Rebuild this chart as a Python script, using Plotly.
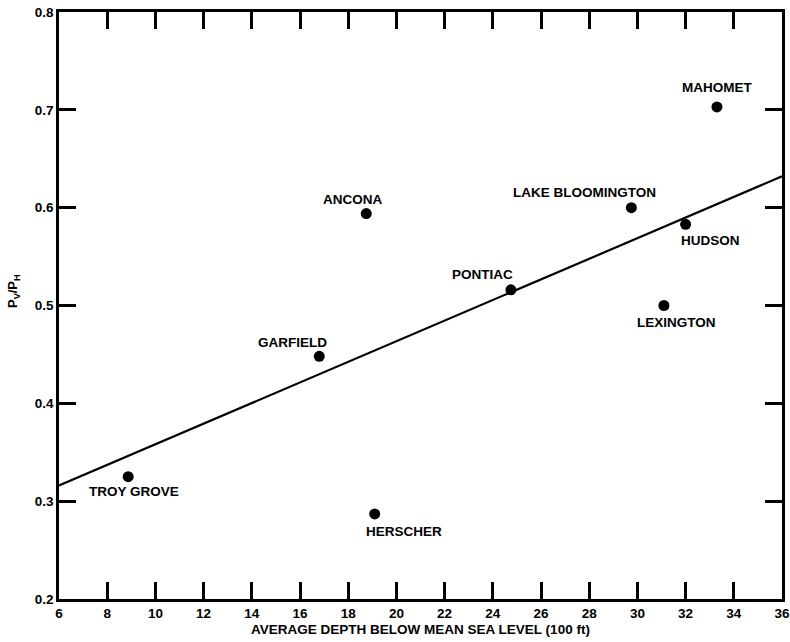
import plotly.graph_objects as go

# Site observations: average depth below mean sea level (100 ft) vs. Pv/Ph ratio
sites = ["MAHOMET", "LAKE BLOOMINGTON", "HUDSON", "ANCONA", "PONTIAC",
         "LEXINGTON", "GARFIELD", "TROY GROVE", "HERSCHER"]
depth = [33.3, 29.75, 32.0, 18.75, 24.75, 31.1, 16.8, 8.87, 19.1]
ratio = [0.703, 0.600, 0.583, 0.594, 0.516, 0.500, 0.448, 0.325, 0.287]

# Fitted trend line end points
fit_x = [6, 36]
fit_y = [0.316, 0.632]

# Label offsets (pixels) relative to each point
label_dx = [0, -47, 25, -14, -28, 13, -27, 6, 29]
label_dy = [19, 15, -16, 14, 15, -17, 14, -15, -18]

FONT = "Liberation Sans"

fig = go.Figure()
fig.add_trace(go.Scatter(x=fit_x, y=fit_y, mode="lines",
                         line=dict(color="black", width=2.2),
                         hoverinfo="skip", showlegend=False))
fig.add_trace(go.Scatter(x=depth, y=ratio, mode="markers",
                         marker=dict(color="black", size=11),
                         text=sites, showlegend=False))

for name, x, y, dx, dy in zip(sites, depth, ratio, label_dx, label_dy):
    fig.add_annotation(x=x, y=y, text=name, showarrow=False,
                       xshift=dx, yshift=dy,
                       font=dict(family=FONT, size=13.5, color="black", weight="bold"))

fig.add_annotation(xref="paper", yref="paper", x=-0.062, y=0.525,
                   xanchor="center", yanchor="middle",
                   text="P<sub>V</sub>/P<sub>H</sub>", textangle=-90, showarrow=False,
                   font=dict(family=FONT, size=13, color="black", weight="bold"))

axis_common = dict(
    showgrid=False, zeroline=False, showline=True, linecolor="black", linewidth=2.5,
    mirror="ticks", ticks="inside", ticklen=17, tickwidth=3, tickcolor="black",
    automargin=False,
    tickfont=dict(family=FONT, size=13.5, color="black", weight="bold"),
)

fig.update_xaxes(range=[6, 36], dtick=2, tick0=6, **axis_common,
                 title=dict(text="AVERAGE DEPTH BELOW MEAN SEA LEVEL (100 ft)",
                            font=dict(family=FONT, size=13.5, color="black", weight="bold"),
                            standoff=5))
fig.update_yaxes(range=[0.2, 0.8], dtick=0.1, tick0=0.2, tickformat=".1f", **axis_common)

fig.update_layout(width=790, height=642,
                  margin=dict(l=59, r=8, t=12, b=43),
                  paper_bgcolor="white", plot_bgcolor="white")

fig.write_html("out.html")
